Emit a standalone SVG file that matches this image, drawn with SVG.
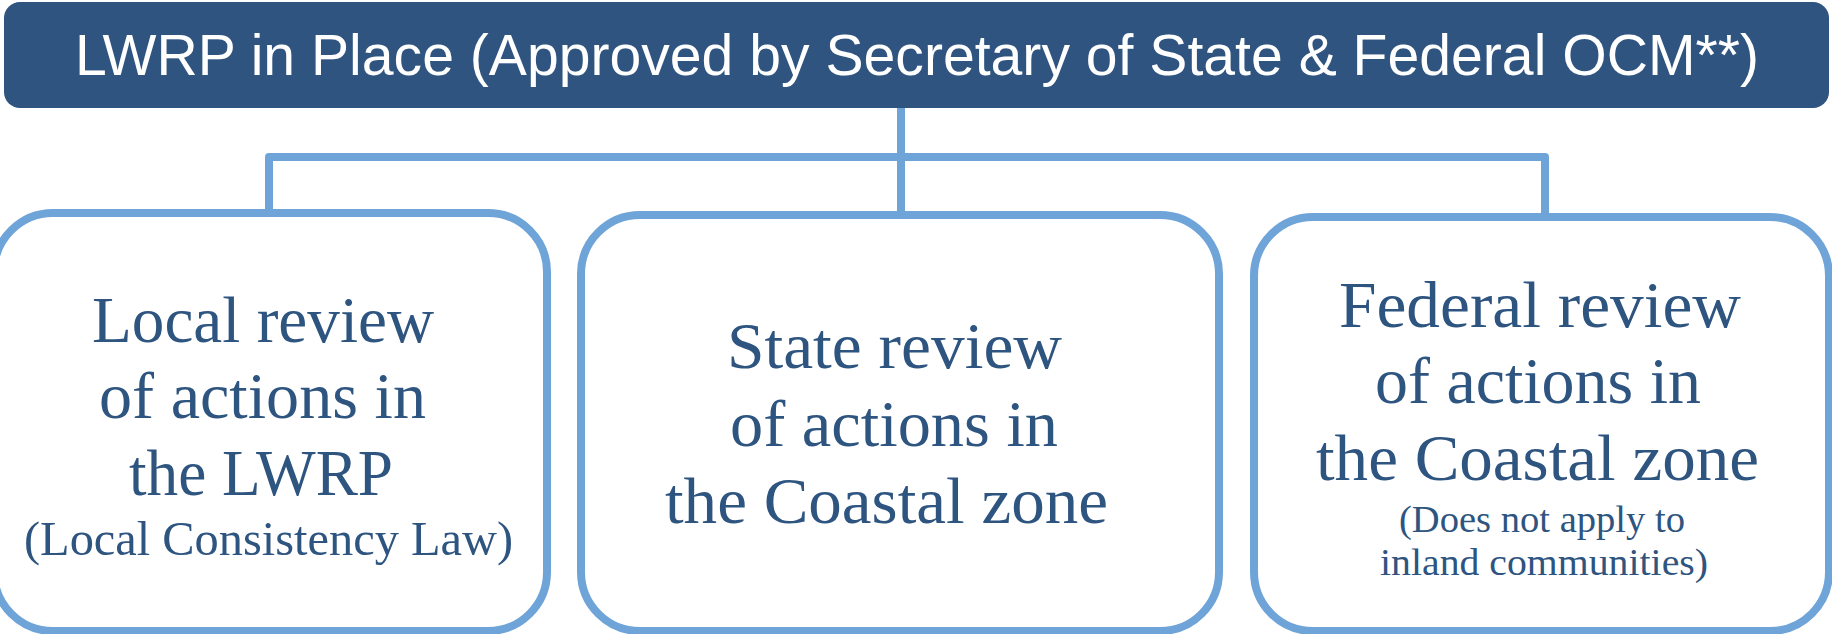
<svg xmlns="http://www.w3.org/2000/svg" width="1832" height="634" viewBox="0 0 1832 634">
  <style>
    .conn { fill: none; stroke: #6FA4D8; stroke-width: 8; stroke-linejoin: round; }
    .box { fill: #FFFFFF; stroke: #6FA4D8; stroke-width: 8; }
    .head { fill: #2F5480; }
    .title { font-family: "Liberation Sans", "Open Sans", sans-serif; font-size: 57px; fill: #FFFFFF; text-anchor: middle; }
    .big { font-family: "Liberation Serif", "DejaVu Serif", serif; font-size: 66px; fill: #2E5480; text-anchor: middle; }
    .mid { font-family: "Liberation Serif", "DejaVu Serif", serif; font-size: 48px; fill: #2E5480; text-anchor: middle; }
    .small { font-family: "Liberation Serif", "DejaVu Serif", serif; font-size: 37px; fill: #2E5480; text-anchor: middle; }
  </style>
  <rect width="1832" height="634" fill="#FFFFFF"/>
  <g id="connectors">
    <path class="conn" d="M901,108 V215"/>
    <path class="conn" d="M269,213 V157 H1545 V217"/>
  </g>
  <g id="node-top">
    <rect class="head" x="4" y="2" width="1825" height="106" rx="16" ry="16"/>
    <text class="title" x="917" y="75" textLength="1684" lengthAdjust="spacingAndGlyphs">LWRP in Place (Approved by Secretary of State &amp; Federal OCM**)</text>
  </g>
  <g id="node-local">
    <rect class="box" x="-6" y="213" width="553" height="418" rx="59" ry="59"/>
    <text class="big" x="263" y="342" textLength="342" lengthAdjust="spacingAndGlyphs">Local review</text>
    <text class="big" x="262.5" y="418" textLength="327" lengthAdjust="spacingAndGlyphs">of actions in</text>
    <text class="big" x="261" y="495" textLength="264" lengthAdjust="spacingAndGlyphs">the LWRP</text>
    <text class="mid" x="268.5" y="555" textLength="489" lengthAdjust="spacingAndGlyphs">(Local Consistency Law)</text>
  </g>
  <g id="node-state">
    <rect class="box" x="581" y="215" width="638" height="416" rx="59" ry="59"/>
    <text class="big" x="894.5" y="368" textLength="335" lengthAdjust="spacingAndGlyphs">State review</text>
    <text class="big" x="894" y="446" textLength="328" lengthAdjust="spacingAndGlyphs">of actions in</text>
    <text class="big" x="886.5" y="523" textLength="443" lengthAdjust="spacingAndGlyphs">the Coastal zone</text>
  </g>
  <g id="node-federal">
    <rect class="box" x="1254" y="217" width="575" height="414" rx="59" ry="59"/>
    <text class="big" x="1540" y="327" textLength="402" lengthAdjust="spacingAndGlyphs">Federal review</text>
    <text class="big" x="1538" y="403" textLength="326" lengthAdjust="spacingAndGlyphs">of actions in</text>
    <text class="big" x="1537.5" y="480" textLength="443" lengthAdjust="spacingAndGlyphs">the Coastal zone</text>
    <text class="small" x="1542" y="532" textLength="286" lengthAdjust="spacingAndGlyphs">(Does not apply to</text>
    <text class="small" x="1544" y="575" textLength="328" lengthAdjust="spacingAndGlyphs">inland communities)</text>
  </g>
</svg>
